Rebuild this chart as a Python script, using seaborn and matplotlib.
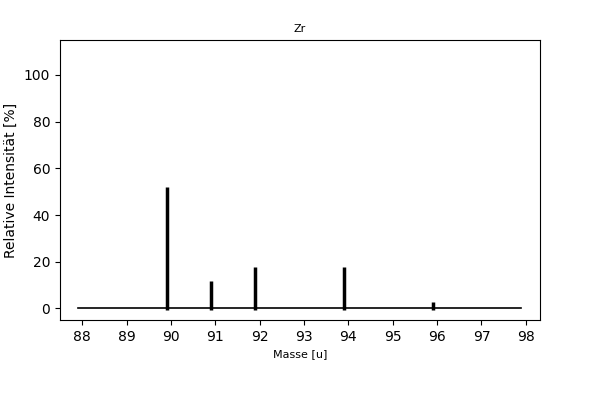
import matplotlib
matplotlib.use('Agg')
import matplotlib.pyplot as plt
import seaborn as sns
import pandas as pd

# Zr isotope pattern
masses = [89.9047, 90.9056, 91.9050, 93.9063, 95.9083]
intensities = [52.0, 11.6, 17.6, 17.6, 2.9]
baseline_x = [87.9, 97.9]
baseline_y = [0, 0]
xticks = [88, 89, 90, 91, 92, 93, 94, 95, 96, 97, 98]

fig = plt.figure(figsize=(6, 4), dpi=100)
ax = fig.add_axes([0.1, 0.2, 0.8, 0.7])

base = pd.DataFrame({'x': baseline_x, 'y': baseline_y})
sns.lineplot(data=base, x='x', y='y', color='black', linewidth=1.2, ax=ax)
ax.vlines(masses, -0.8, intensities, colors='black', linewidth=2.5)

ax.set_xlim(87.5, 98.32)
ax.set_ylim(-5, 115)
ax.set_xticks(xticks)
ax.set_yticks([0, 20, 40, 60, 80, 100])
ax.set_title('Zr', fontsize=8)
ax.set_xlabel('Masse [u]', fontsize=8)
ax.set_ylabel('Relative Intensität [%]')

fig.savefig('out.png', dpi=100)
